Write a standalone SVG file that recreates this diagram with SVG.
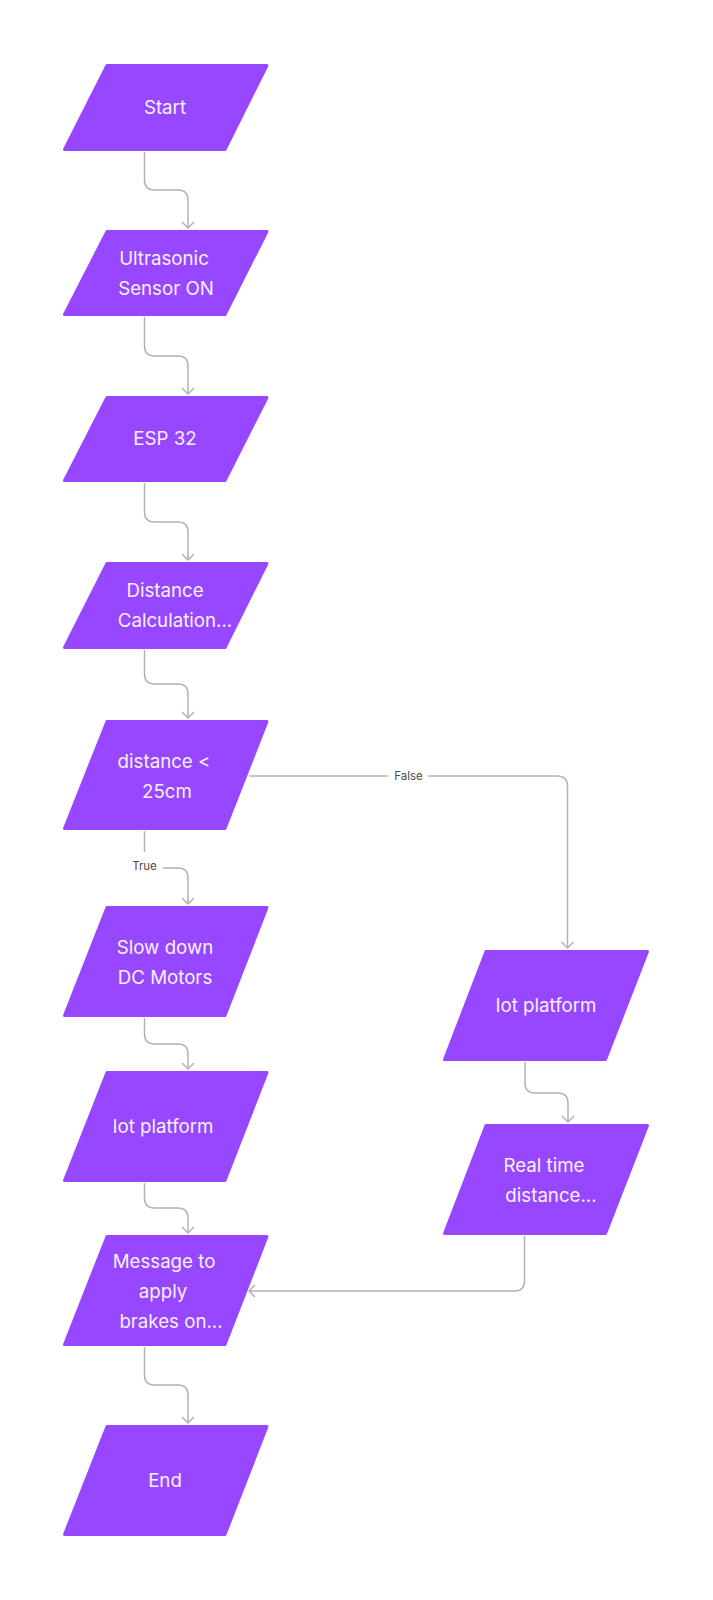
<svg xmlns="http://www.w3.org/2000/svg" width="713" height="1600" viewBox="0 0 713 1600">
<style>
.n{fill:#9747ff;stroke:#9747ff;stroke-width:3;stroke-linejoin:round}
.t{font-family:Inter,"Noto Sans",sans-serif;font-size:18.7px;fill:#f7f0ff;text-anchor:middle}
.c{fill:none;stroke:#b3b3b3;stroke-width:1.5}
.l{font-family:Inter,"Noto Sans",sans-serif;font-size:11.5px;fill:#4a4a4a;text-anchor:middle}
</style>
<defs>
<marker id="a" markerWidth="14" markerHeight="14" refX="7" refY="7" orient="auto" markerUnits="userSpaceOnUse">
<path d="M1,1 L7,7 L1,13" fill="none" stroke="#b3b3b3" stroke-width="1.5"/>
</marker>
</defs>
<rect width="713" height="1600" fill="#fff"/>
<g id="connectors">
<path class="c" marker-end="url(#a)" d="M144.5,152 V180 Q144.5,190 154.5,190 H178 Q188,190 188,200 V228"/>
<path class="c" marker-end="url(#a)" d="M144.5,317 V346 Q144.5,356 154.5,356 H178 Q188,356 188,366 V394"/>
<path class="c" marker-end="url(#a)" d="M144.5,483 V512 Q144.5,522 154.5,522 H178 Q188,522 188,532 V560"/>
<path class="c" marker-end="url(#a)" d="M144.5,650 V674 Q144.5,684 154.5,684 H178 Q188,684 188,694 V718"/>
<path class="c" d="M144.5,831 V852"/>
<path class="c" marker-end="url(#a)" d="M163,868 H178 Q188,868 188,878 V904"/>
<text class="l" x="144.5" y="870">True</text>
<path class="c" marker-end="url(#a)" d="M144.5,1018 V1034 Q144.5,1044 154.5,1044 H178 Q188,1044 188,1054 V1069"/>
<path class="c" marker-end="url(#a)" d="M144.5,1183 V1198 Q144.5,1208 154.5,1208 H178 Q188,1208 188,1218 V1233"/>
<path class="c" marker-end="url(#a)" d="M144.5,1347 V1375 Q144.5,1385 154.5,1385 H178 Q188,1385 188,1395 V1423"/>
<path class="c" d="M249,776 H388"/>
<path class="c" marker-end="url(#a)" d="M428,776 H557 Q567.5,776 567.5,786 V948"/>
<text class="l" x="408.5" y="780">False</text>
<path class="c" marker-end="url(#a)" d="M525,1062 V1083 Q525,1093 535,1093 H558 Q568,1093 568,1103 V1122"/>
<path class="c" marker-end="url(#a)" d="M524.5,1236 V1281 Q524.5,1291 514.5,1291 H249"/>
</g>
<g id="start"><polygon class="n" points="107,65.5 267,65.5 225,149.5 64.5,149.5"/><text class="t" x="165" y="114">Start</text></g>
<g id="ultrasonic"><polygon class="n" points="107,231.5 267,231.5 225,314.5 64.5,314.5"/><text class="t" x="164" y="265">Ultrasonic</text><text class="t" x="166" y="295">Sensor ON</text></g>
<g id="esp32"><polygon class="n" points="107,397.5 267,397.5 225,480.5 64.5,480.5"/><text class="t" x="165" y="445">ESP 32</text></g>
<g id="distance"><polygon class="n" points="107,563.5 267,563.5 225,647.5 64.5,647.5"/><text class="t" x="165" y="597">Distance</text><text class="t" x="175" y="627">Calculation...</text></g>
<g id="decision"><polygon class="n" points="107,721.5 267,721.5 225,828.5 64.5,828.5"/><text class="t" x="164" y="768">distance &lt;</text><text class="t" x="167" y="798">25cm</text></g>
<g id="slowdown"><polygon class="n" points="107,907.5 267,907.5 225,1015.5 64.5,1015.5"/><text class="t" x="165" y="954">Slow down</text><text class="t" x="165" y="984">DC Motors</text></g>
<g id="iot-left"><polygon class="n" points="107,1072.5 267,1072.5 225,1180.5 64.5,1180.5"/><text class="t" x="163" y="1133">Iot platform</text></g>
<g id="message"><polygon class="n" points="107,1236.5 267,1236.5 225,1344.5 64.5,1344.5"/><text class="t" x="164" y="1268">Message to</text><text class="t" x="163" y="1298">apply</text><text class="t" x="171" y="1328">brakes on...</text></g>
<g id="end"><polygon class="n" points="107,1426.5 267,1426.5 225,1534.5 64.5,1534.5"/><text class="t" x="165" y="1487">End</text></g>
<g id="iot-right"><polygon class="n" points="486,951.5 647.5,951.5 605.5,1059.5 444.5,1059.5"/><text class="t" x="546" y="1012">Iot platform</text></g>
<g id="realtime"><polygon class="n" points="486,1125.5 647.5,1125.5 605.5,1233.5 444.5,1233.5"/><text class="t" x="544" y="1172">Real time</text><text class="t" x="551" y="1202">distance...</text></g>
</svg>
